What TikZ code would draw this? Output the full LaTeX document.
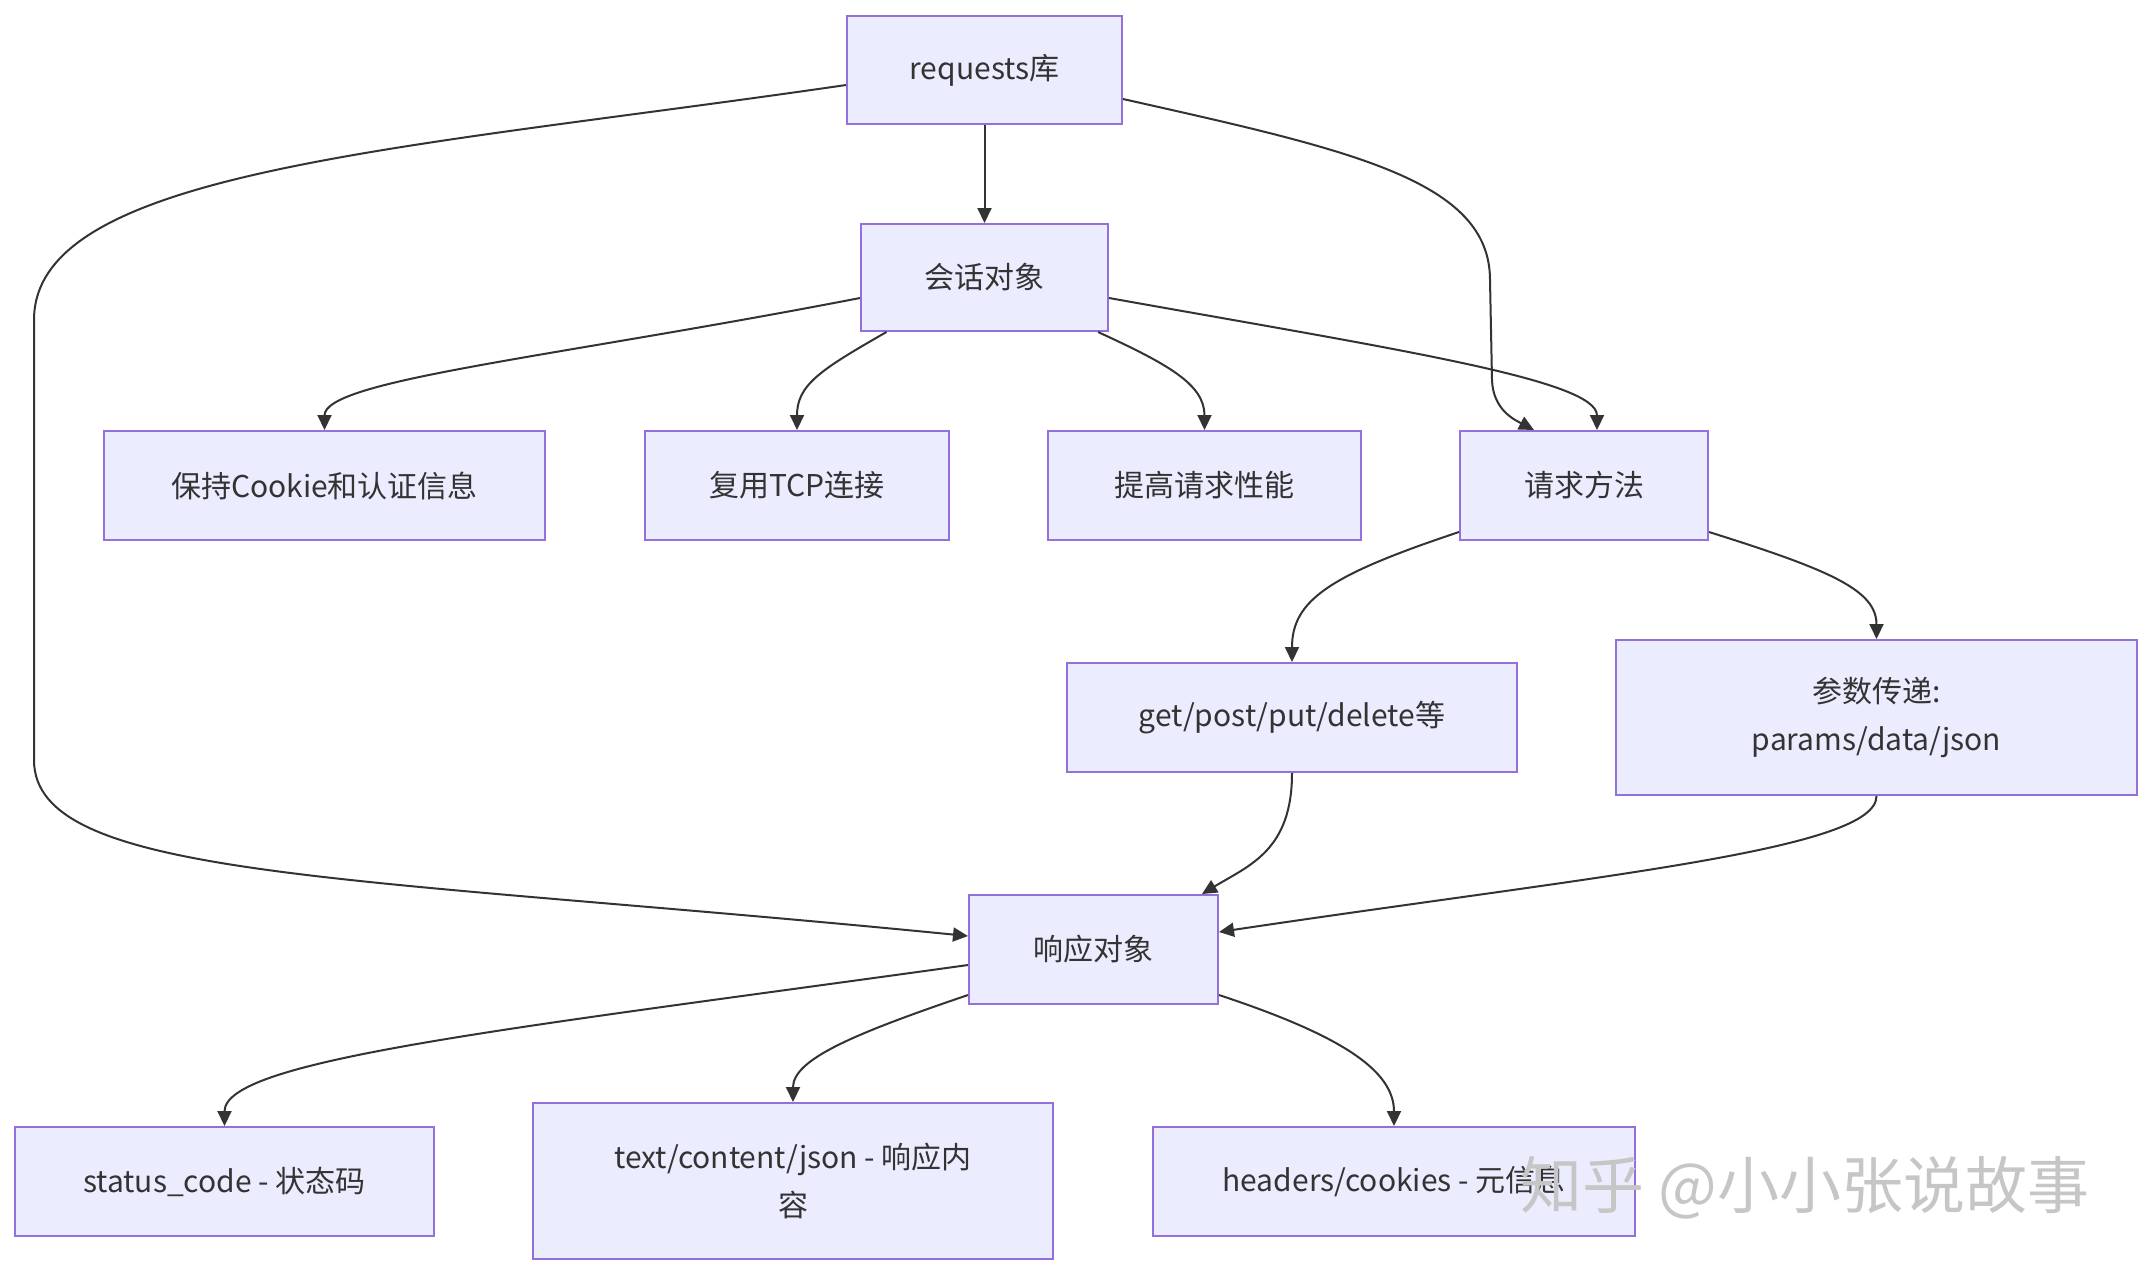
\documentclass[tikz,border=0pt]{standalone}
\usepackage{fontspec}
\setmainfont{Noto Sans CJK SC}
\usetikzlibrary{arrows.meta,calc}
\definecolor{nodefill}{HTML}{ECECFF}
\definecolor{nodeline}{HTML}{9370DB}
\definecolor{edgec}{HTML}{333333}
\begin{document}
\begin{tikzpicture}[x=0.5pt,y=-0.5pt,
  box/.style={draw=nodeline, fill=nodefill, line width=1pt, inner sep=0pt, align=center,
    font=\fontsize{15}{24}\selectfont, text=edgec},
  arr/.style={draw=edgec, line width=1pt, -{Triangle[length=7.5pt,width=7pt]}},
  wmark/.style={font=\fontsize{31}{31}\selectfont, text=gray!45}]
\useasboundingbox[fill=white] (0,0) rectangle (2153,1276);

\node[box, minimum width=137.5pt, minimum height=54pt] (req) at (984.5,70) {requests库};
\node[box, minimum width=123.5pt, minimum height=53.5pt] (sess) at (984.5,277.5) {会话对象};
\node[box, minimum width=220.5pt, minimum height=54.5pt] (keep) at (324.5,485.5) {保持Cookie和认证信息};
\node[box, minimum width=152pt, minimum height=54.5pt] (tcp) at (797,485.5) {复用TCP连接};
\node[box, minimum width=156.5pt, minimum height=54.5pt] (perf) at (1204.5,485.5) {提高请求性能};
\node[box, minimum width=124pt, minimum height=54.5pt] (meth) at (1584,485.5) {请求方法};
\node[box, minimum width=225pt, minimum height=54.5pt] (get) at (1292,717.5) {get/post/put/delete等};
\node[box, minimum width=260.5pt, minimum height=77.5pt] (param) at (1876.5,717.5) {参数传递:\\params/data/json};
\node[box, minimum width=124.5pt, minimum height=54.5pt] (resp) at (1093.5,949.5) {响应对象};
\node[box, minimum width=209.5pt, minimum height=54.5pt] (status) at (224.5,1181.5) {status\_code - 状态码};
\node[box, minimum width=260pt, minimum height=78pt] (text) at (793,1181) {text/content/json - 响应内\\容};
\node[box, minimum width=241pt, minimum height=54.5pt] (head) at (1394,1181.5) {headers/cookies - 元信息};

% edges
\draw[arr] (req) -- (sess);
\draw[arr] ($(req.west)+(0,15)$) .. controls (400,150) and (34,170) .. (34,320)
  -- (34,760) .. controls (34,880) and (350,875) .. ($(resp.west)+(0,-13.5)$);
\draw[arr] ($(req.east)+(0,29)$) .. controls (1350,150) and (1490,180) .. (1490,280)
  -- (1492,380) .. controls (1493,410) and (1515,420) .. ($(meth.north)+(-50,0)$);
\draw[arr] ($(sess.west)+(0,20.5)$) .. controls (550,358) and (324.5,380) .. (keep.north);
\draw[arr] ($(sess.south)+(-98,0)$) .. controls (820,370) and (797,385) .. (tcp.north);
\draw[arr] ($(sess.south)+(113.5,0)$) .. controls (1170,365) and (1204.5,385) .. (perf.north);
\draw[arr] ($(sess.east)+(0,20.5)$) .. controls (1400,350) and (1597,380) .. ($(meth.north)+(13,0)$);
\draw[arr] ($(meth.south west)+(0,-9)$) .. controls (1330,575) and (1292,600) .. (get.north);
\draw[arr] ($(meth.south east)+(0,-9)$) .. controls (1830,570) and (1876.5,590) .. (param.north);
\draw[arr] (get.south) .. controls (1292,850) and (1250,865) .. ($(resp.north east)+(-17,0)$);
\draw[arr] (param.south) .. controls (1876.5,850) and (1600,875) .. ($(resp.east)+(0,-17.5)$);
\draw[arr] ($(resp.west)+(0,15.5)$) .. controls (500,1030) and (224.5,1060) .. (status.north);
\draw[arr] ($(resp.south west)+(0,-10)$) .. controls (850,1035) and (793,1060) .. (text.north);
\draw[arr] ($(resp.south east)+(0,-10)$) .. controls (1340,1035) and (1394,1070) .. (head.north);

\node[wmark] (wm) at (1805,1188) {知乎 @小小张说故事};
\end{tikzpicture}
\end{document}
